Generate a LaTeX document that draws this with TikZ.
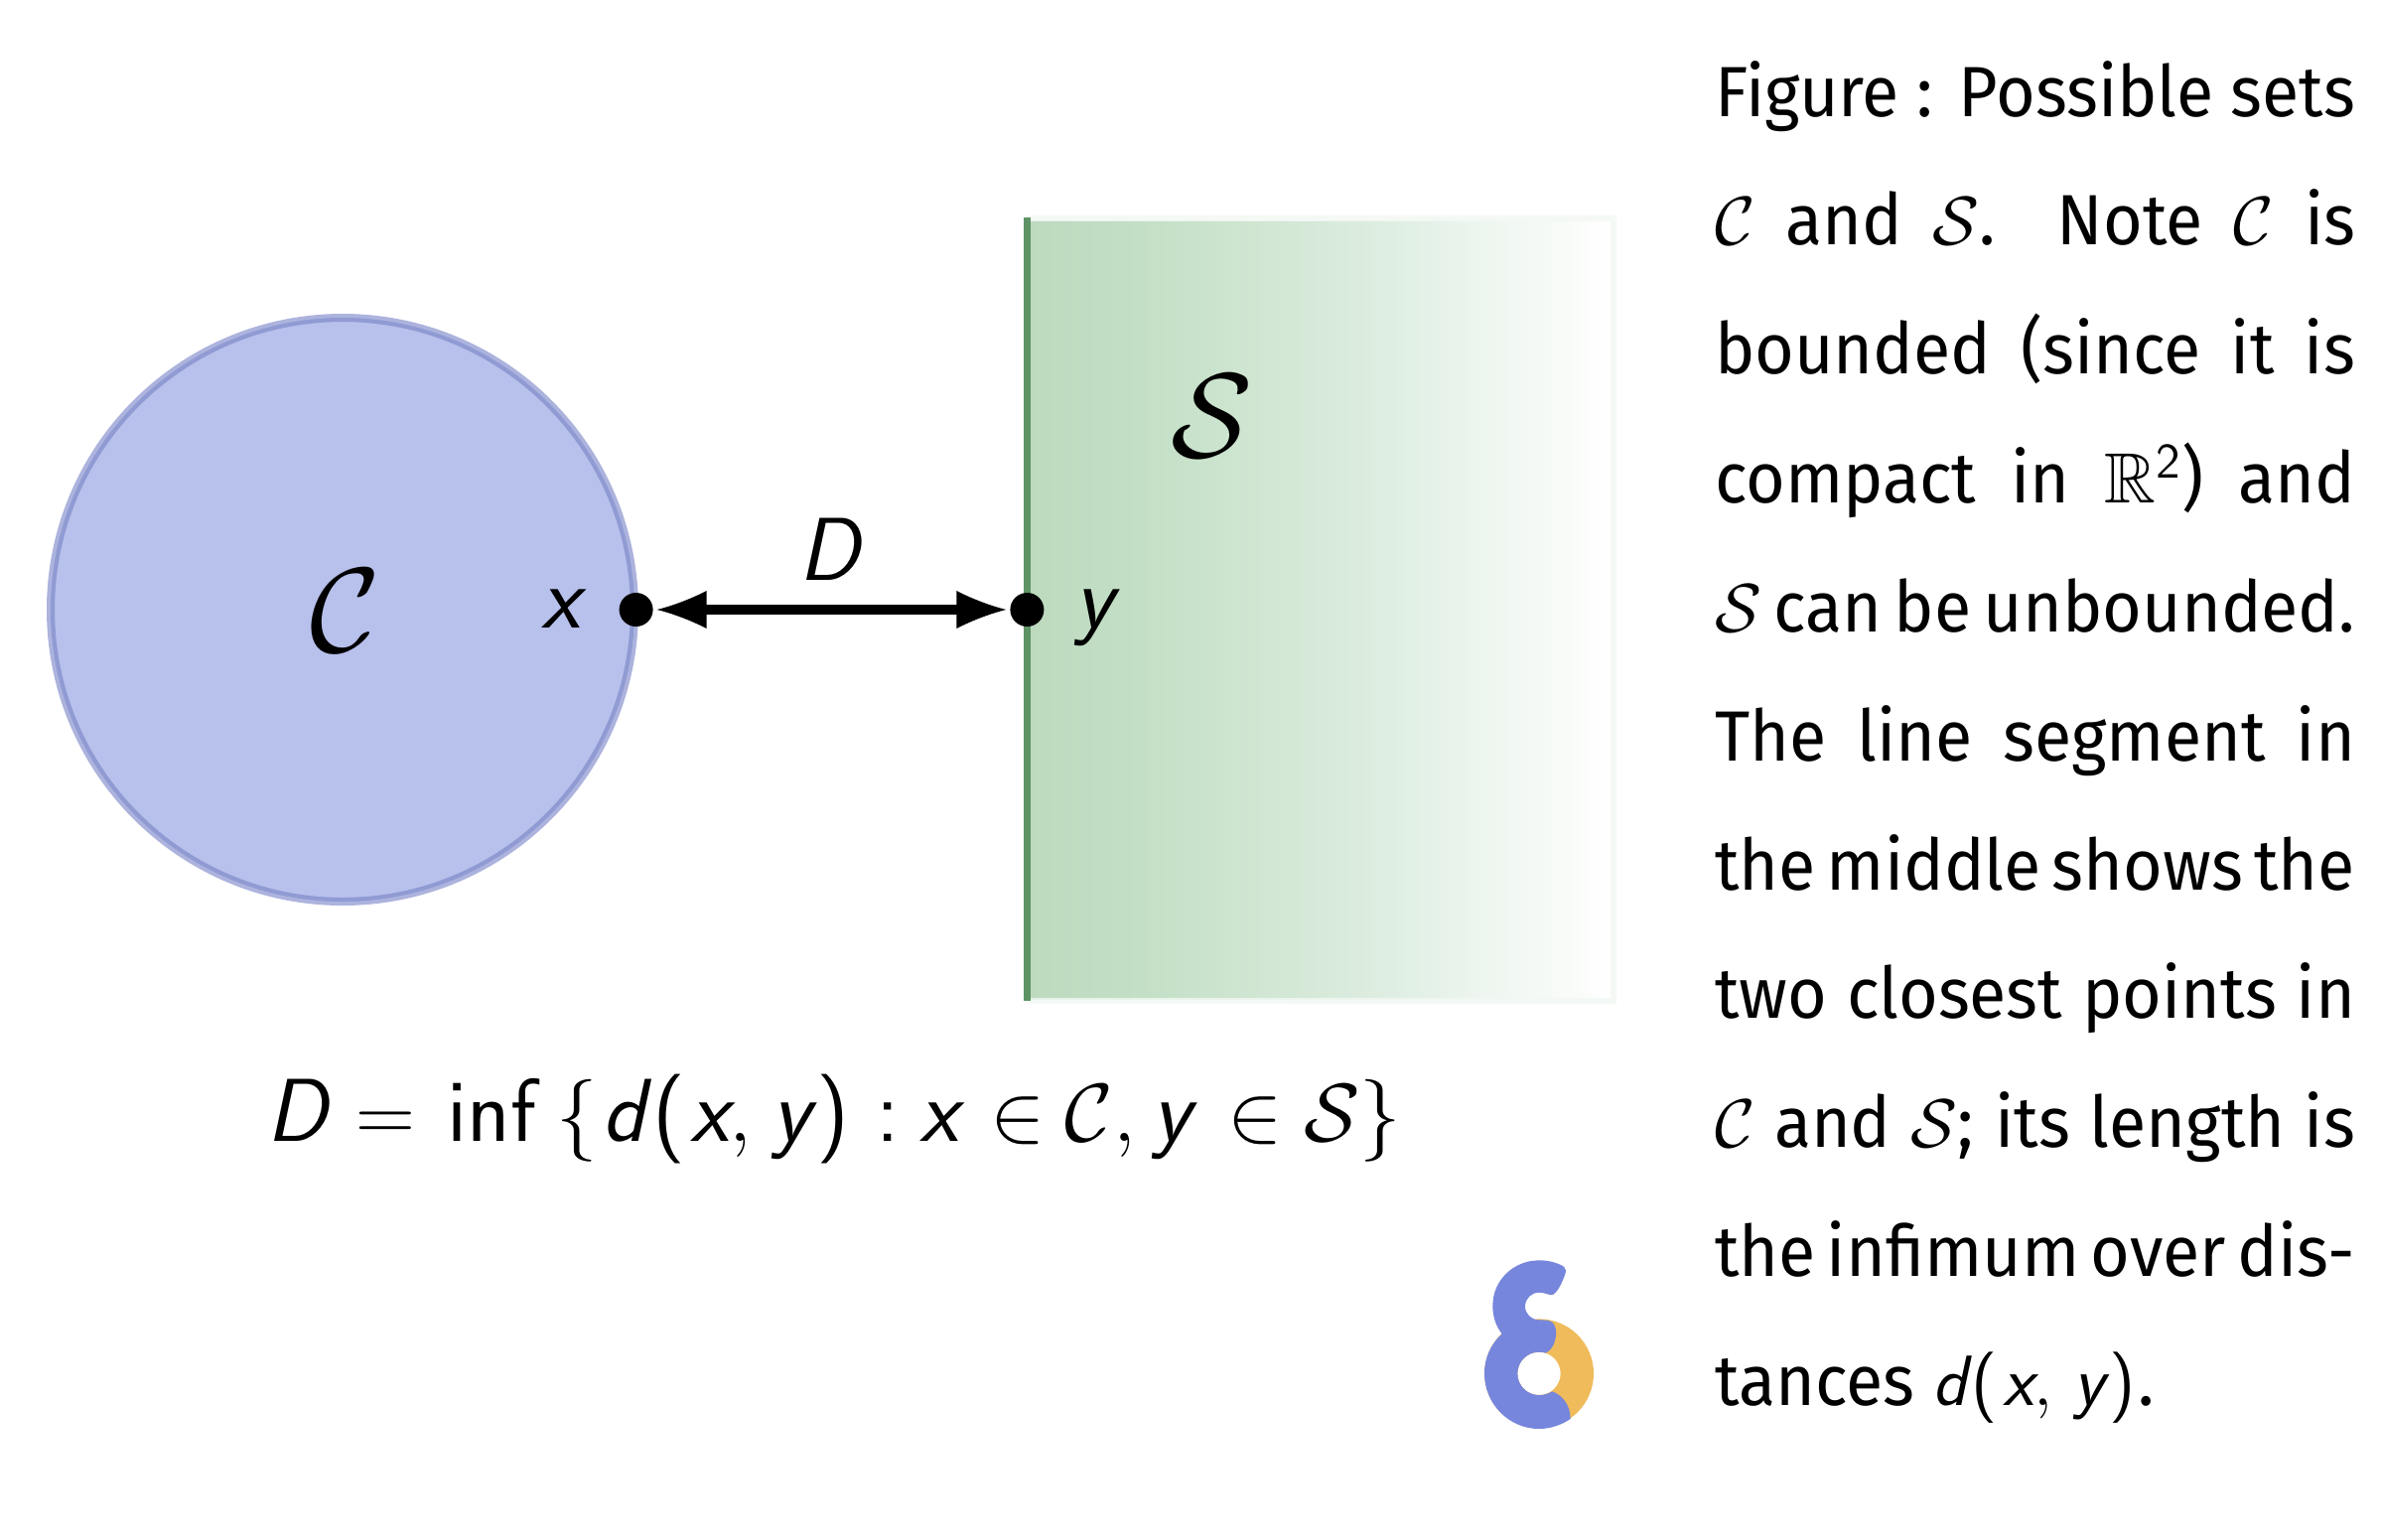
\documentclass[tikz,border=0pt]{standalone}
\usepackage{amssymb}
\usepackage{graphicx}
\usepackage{fontspec}
\setmainfont[FakeStretch=0.95]{Fira Sans}
\usetikzlibrary{arrows.meta}
\definecolor{setblue}{HTML}{B8C0EC}
\definecolor{setblueline}{HTML}{ACB3DD}
\definecolor{setbluedark}{HTML}{909AD3}
\definecolor{setgreen}{HTML}{5E9465}
\definecolor{setedge}{HTML}{F2F8F3}
\definecolor{logoblue}{HTML}{7686DC}
\definecolor{logoorange}{HTML}{EFBB5B}
\pgfdeclarehorizontalshading{fadegreen}{100bp}{
  rgb(0bp)=(0.741,0.851,0.745);
  rgb(25bp)=(0.741,0.851,0.745);
  rgb(35bp)=(0.765,0.875,0.776);
  rgb(47.75bp)=(0.831,0.910,0.839);
  rgb(56bp)=(0.871,0.933,0.886);
  rgb(64.5bp)=(0.933,0.965,0.941);
  rgb(71bp)=(0.973,0.984,0.973);
  rgb(75bp)=(1,1,1);
  rgb(100bp)=(1,1,1)}
\pgfdeclarearrow{
  name=ConcaveHead,
  setup code={\pgfarrowssettipend{15pt}\pgfarrowssetlineend{1pt}\pgfarrowssetbackend{0pt}\pgfarrowssetvisualbackend{0pt}},
  drawing code={
    \pgfsetlinewidth{0pt}
    \pgfpathmoveto{\pgfpoint{15pt}{0pt}}
    \pgfpathcurveto{\pgfpoint{10pt}{1.2pt}}{\pgfpoint{4pt}{3.6pt}}{\pgfpoint{0pt}{5.7pt}}
    \pgfpathlineto{\pgfpoint{0pt}{-5.7pt}}
    \pgfpathcurveto{\pgfpoint{4pt}{-3.6pt}}{\pgfpoint{10pt}{-1.2pt}}{\pgfpoint{15pt}{0pt}}
    \pgfpathclose
    \pgfusepathqfill},
  defaults={}
}
\newcommand\mi[1]{\mbox{\sffamily\itshape #1}}
\newcommand\mr[1]{\mbox{\sffamily #1}}
\newcommand\capline[1]{\hbox to 193.5pt{\spaceskip=.2em plus 1fil minus .2em\relax #1}}
\tikzset{
  lbl/.style={inner sep=0pt,outer sep=0pt,text=black},
  ptdot/.style={circle,fill=black,inner sep=0pt,outer sep=0pt,minimum size=10.2pt},
  dist/.style={line width=3pt,{ConcaveHead}-{ConcaveHead},shorten <=1.2pt,shorten >=1.2pt}
}
\begin{document}
\begin{tikzpicture}[x=0.3pt,y=-0.3pt]
\useasboundingbox (0,0) rectangle (2400,1550);
% set C
\node[circle,draw=setblueline,line width=2.4pt,fill=setblue,minimum size=176.4pt,inner sep=0pt,outer sep=0pt] (setC) at (345,614) {};
\draw[setbluedark,line width=1.2pt] (setC.center) circle[radius=292];
% set S
\shade[shading=fadegreen] (1031,222) rectangle (1622,1006);
\draw[draw=setedge,opacity=0.8,line width=1.8pt] (1034,220) -- (1625,220) -- (1625,1008) -- (1034,1008);
\draw[setgreen,line width=2.1pt] (1034.5,219) -- (1034.5,1008);
% labels
\node[lbl,font=\fontsize{24.88}{30}\selectfont] (labC) at (348,615) {\scalebox{1.46}{$\mathcal{C}$}};
\node[lbl,font=\fontsize{24.88}{30}\selectfont] (labS) at (1221,419) {\scalebox{1.46}{$\mathcal{S}$}};
\node[ptdot] (ptx) at (640.6,614) {};
\node[ptdot] (pty) at (1034.4,614) {};
\node[lbl,font=\fontsize{27}{27}\selectfont,anchor=base] (labx) at (565,632) {\mi{x}};
\node[lbl,font=\fontsize{27}{27}\selectfont,anchor=base] (laby) at (1102,632) {\mi{y}};
\node[lbl,font=\fontsize{27}{27}\selectfont,anchor=base] (labD) at (835,584) {\mi{D}};
\draw[dist] (ptx) -- (pty);
% formula
\node[lbl,font=\fontsize{27}{27}\selectfont,anchor=base west] (formula) at (268,1149)
 {$\mi{D}\hspace{2pt}=\hspace{2.8pt}\mr{inf}\hspace{2pt}\,\{\hspace{1.4pt}\mi{d}\hspace{2pt}\mr{(}\hspace{1.7pt}\mi{x},\hspace{2pt}\mi{y}\hspace{1.7pt}\mr{)}\hspace{1.4pt}\mathrel{\mr{:}}\hspace{-.8pt}\mi{x}\hspace{2.7pt}\in\hspace{-1pt}\mathcal{C},\hspace{1pt}\mi{y}\hspace{4.2pt}\in\hspace{-.5pt}\mathcal{S}\}$};
% caption
\node[lbl,anchor=base west,font=\fontsize{21.5}{38.95}\selectfont] (caption) at (1727,117)
 {\parbox[t]{193.5pt}{\lineskiplimit=-20pt\parindent=0pt
 \capline{Figure : Possible sets}
 \capline{$\mathcal{C}$ and $\mathcal{S}$.\ \ Note $\mathcal{C}$ is}
 \capline{bounded (since it is}
 \capline{compact in $\mathbb{R}^{\mbox{\sffamily\fontsize{15}{15}\selectfont 2}}$) and}
 \capline{$\mathcal{S}$ can be unbounded.}
 \capline{The line segment in}
 \capline{the middle shows the}
 \capline{two closest points in}
 \capline{$\mathcal{C}$ and $\mathcal{S}$; its length is}
 \capline{the infimum over dis-}
 tances $\mi{d}\hspace{1.5pt}\mr{(}\hspace{1.5pt}\mi{x},\hspace{3pt}\mi{y}\hspace{1.5pt}\mr{)}\hspace{1pt}$.}};
% logo
\begin{scope}[shift={(1450,1230)},x=0.1pt,y=-0.1pt]
\fill[logoorange,even odd rule] (300,460) circle[radius=165] (300,460) circle[radius=65];
\fill[logoblue] (300,118) .. controls (330,118) and (355,125) .. (375,137)
  .. controls (382,142) and (382,152) .. (378,162)
  .. controls (370,185) and (358,210) .. (345,220)
  .. controls (335,228) and (322,215) .. (300,215)
  .. controls (277,215) and (258,234) .. (258,257)
  .. controls (258,280) and (277,298) .. (300,298)
  .. controls (315,298) and (330,298) .. (340,305)
  .. controls (350,315) and (353,330) .. (351,345)
  .. controls (348,370) and (338,390) .. (320,398)
  .. controls (314,396) and (307,395) .. (300,395)
  .. controls (264,395) and (235,424) .. (235,460)
  .. controls (235,496) and (264,525) .. (300,525)
  .. controls (315,525) and (328,521) .. (340,514)
  .. controls (370,525) and (395,555) .. (395,597)
  .. controls (368,615) and (335,627) .. (300,627)
  .. controls (209,627) and (135,551) .. (135,460)
  .. controls (135,412) and (155,370) .. (188,340)
  .. controls (170,318) and (160,288) .. (160,255)
  .. controls (160,178) and (223,118) .. (300,118) -- cycle;
\end{scope}
\end{tikzpicture}
\end{document}
